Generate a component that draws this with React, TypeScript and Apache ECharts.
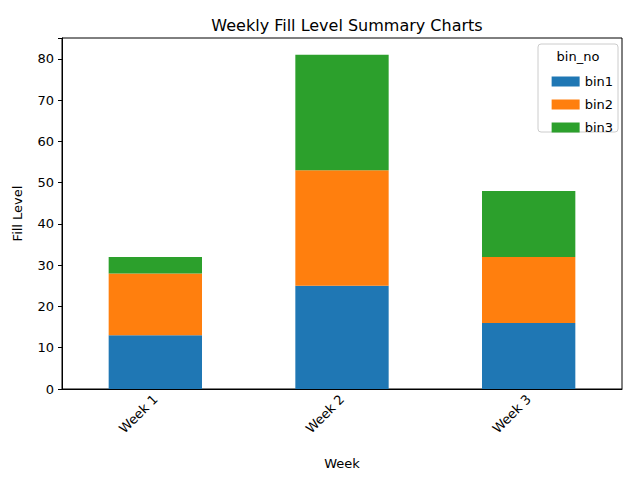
import { useEffect, useRef } from 'react'
import * as echarts from 'echarts'

const weeks = ['Week 1', 'Week 2', 'Week 3']
const bin1 = [13, 25, 16]
const bin2 = [15, 28, 16]
const bin3 = [4, 28, 16]
const colors = ['#1f77b4', '#ff7f0e', '#2ca02c']

const App = () => {
  const main = useRef<HTMLDivElement>(null)
  useEffect(() => {
    const font = 'DejaVu Sans'
    const option = {
      animation: false,
      textStyle: { fontFamily: font },
      title: {
        text: 'Weekly Fill Level Summary Charts',
        left: 342,
        top: 12,
        textAlign: 'center',
        textStyle: { fontSize: 16, fontWeight: 'normal', color: '#000', fontFamily: font },
      },
      grid: {
        left: 62, right: 18, top: 38, bottom: 91,
        show: true, borderColor: '#000', borderWidth: 1,
      },
      legend: {
        orient: 'vertical',
        right: 22,
        top: 70,
        itemWidth: 28,
        itemHeight: 10,
        itemGap: 10,
        icon: 'rect',
        textStyle: { fontSize: 13, color: '#000', fontFamily: font },
        data: ['bin1', 'bin2', 'bin3'],
      },
      graphic: [
        {
          type: 'rect',
          shape: { x: 538, y: 44, width: 80, height: 88, r: 3 },
          style: { fill: 'rgba(255,255,255,0.8)', stroke: '#ccc', lineWidth: 1 },
          z: 0,
        },
        {
          type: 'text',
          x: 578, y: 50,
          style: { text: 'bin_no', fontSize: 13, fill: '#000', align: 'center', fontFamily: font },
        },
      ],
      xAxis: {
        type: 'category',
        data: weeks,
        name: 'Week',
        nameLocation: 'middle',
        nameGap: 68,
        nameTextStyle: { fontSize: 13, color: '#000' },
        axisLine: { lineStyle: { color: '#000' } },
        axisTick: { alignWithLabel: true, length: 4, lineStyle: { color: '#000' } },
        axisLabel: { rotate: 45, fontSize: 13, color: '#000', margin: 8 },
      },
      yAxis: {
        type: 'value',
        min: 0,
        max: 85.05,
        interval: 10,
        name: 'Fill Level',
        nameLocation: 'middle',
        nameGap: 38,
        nameTextStyle: { fontSize: 13, color: '#000' },
        splitLine: { show: false },
        axisLine: { show: true, lineStyle: { color: '#000' } },
        axisTick: { show: true, length: 4, lineStyle: { color: '#000' } },
        axisLabel: {
          fontSize: 13, color: '#000',
          formatter: (v: number) => (v % 10 === 0 ? String(v) : ''),
        },
      },
      series: [
        { name: 'bin1', type: 'bar', stack: 'all', data: bin1, barWidth: '50%', itemStyle: { color: colors[0] } },
        { name: 'bin2', type: 'bar', stack: 'all', data: bin2, itemStyle: { color: colors[1] } },
        { name: 'bin3', type: 'bar', stack: 'all', data: bin3, itemStyle: { color: colors[2] } },
      ],
    }
    const chart = echarts.init(main.current, null, { renderer: 'svg' })
    chart.setOption(option)
    return () => {
      chart.dispose()
    }
  }, [])
  return <div ref={main} style={{ width: '640px', height: '480px', margin: '-8px' }}></div>
}

export default App
